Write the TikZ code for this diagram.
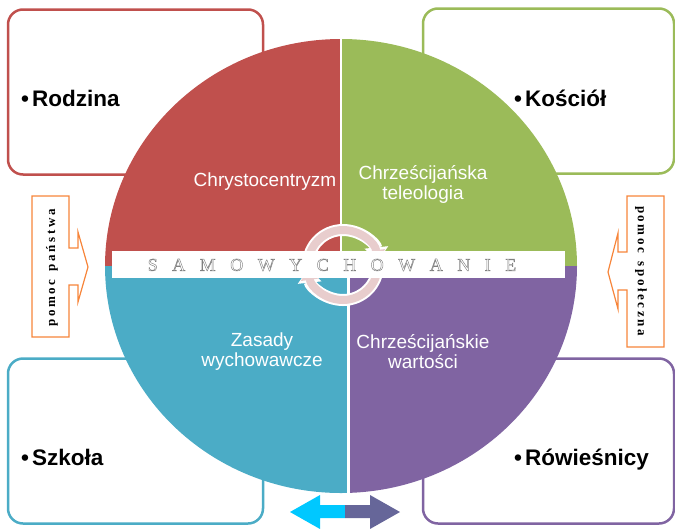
\documentclass[tikz,border=0pt]{standalone}
\usepackage{fontspec}
\setmainfont{Liberation Serif}
\setsansfont{Liberation Sans}
\usepackage{xcolor}
\usetikzlibrary{arrows.meta,positioning}

\definecolor{czerwony}{HTML}{C0504D}
\definecolor{zielony}{HTML}{9BBB59}
\definecolor{niebieski}{HTML}{4BACC6}
\definecolor{fioletowy}{HTML}{8064A2}
\definecolor{pomarancz}{HTML}{F7853A}
\definecolor{rozowy}{RGB}{232,205,205}
\definecolor{cyjan}{HTML}{00C8FF}
\definecolor{lupek}{HTML}{666699}

% letter spacing
\newlength\lsep
\def\spaced#1{\hskip-\lsep\spacedaux#1\relax}
\def\spacedaux#1{\ifx#1\relax\else\hskip\lsep#1\expandafter\spacedaux\fi}
% outlined letters
\newcommand{\obrys}[1]{\special{pdf:literal direct 1 Tr 0.45 w}#1\special{pdf:literal direct 0 Tr}}
\newcommand{\kropka}{\textbullet\hspace{3pt}}

\begin{document}
\begin{tikzpicture}[x=1pt, y=-1pt, every node/.style={inner sep=0pt},
  box/.style={draw, line width=2.5pt, rounded corners=15pt, fill=white, minimum height=165pt},
  lbl/.style={font=\sffamily\bfseries\fontsize{22.5}{22.5}\selectfont, anchor=base west},
  quart/.style={font=\sffamily\fontsize{19}{20}\selectfont, text=white, align=center},
  pomoc/.style={font=\bfseries\fontsize{13}{13}\selectfont},
  callout/.style={draw=pomarancz, line width=1.2pt, fill=white, line join=miter},
  cyklTlo/.style={draw=white, line width=12pt, -{Triangle[width=23pt,length=14pt]}},
  cykl/.style={draw=rozowy, line width=8pt, -{Triangle[width=18pt,length=10pt]}}]
\useasboundingbox (0,0) rectangle (675,528);

% ramki
\node[box, draw=czerwony, minimum width=255pt] (rodzina) at (135.5,92) {};
\node[box, draw=zielony, minimum width=251pt] (kosciol) at (548.5,91) {};
\node[box, draw=niebieski, minimum width=255pt] (szkola) at (135.5,441) {};
\node[box, draw=fioletowy, minimum width=251pt] (rowiesnicy) at (548.5,441) {};

% kolo
\begin{scope}
  \clip (341,266) ellipse [x radius=236, y radius=227];
  \fill[czerwony] (100,30) rectangle (340,266);
  \fill[zielony] (342,30) rectangle (590,266);
  \fill[niebieski] (100,266) rectangle (347,500);
  \fill[fioletowy] (350,266) rectangle (590,500);
\end{scope}

\node[quart] (chrystus) at (265,182) {Chrystocentryzm};
\node[quart] (teleologia) at (423,184) {Chrześcijańska\\teleologia};
\node[quart] (zasady) at (262,352) {Zasady\\wychowawcze};
\node[quart] (wartosci) at (423,352) {Chrześcijańskie\\wartości};

% cykl
\coordinate (srodek) at (343,265);
\draw[cyklTlo] (srodek) ++(180:35) arc[start angle=180, end angle=354, radius=35];
\draw[cyklTlo] (srodek) ++(0:35) arc[start angle=0, end angle=174, radius=35];
\draw[cykl] (srodek) ++(180:35) arc[start angle=180, end angle=352, radius=35];
\draw[cykl] (srodek) ++(0:35) arc[start angle=0, end angle=172, radius=35];

% pas
\node[fill=white, minimum width=453pt, minimum height=27pt] (pas) at (338.5,264.5) {};
\node[font=\fontsize{18}{18}\selectfont, text=gray] (samo) at (332,265)
  {\setlength\lsep{14.5pt}\obrys{\spaced{SAMOWYCHOWANIE}}};

% pomoc
\draw[callout] (32,196) -- (69,196) -- (69,248) -- (78,248) -- (78,232) -- (88,267)
  -- (78,302) -- (78,285) -- (69,285) -- (69,337) -- (32,337) -- cycle;
\node[pomoc, rotate=90] (panstwo) at (52,268) {\setlength\lsep{2.6pt}\spaced{pomoc~państwa}};
\draw[callout] (664,196) -- (627,196) -- (627,252) -- (618,252) -- (618,233) -- (608,272)
  -- (618,309) -- (618,290) -- (627,290) -- (627,347) -- (664,347) -- cycle;
\node[pomoc, rotate=-90] (spolecznosc) at (641,271) {\setlength\lsep{2.6pt}\spaced{pomoc~społeczna}};

% strzalka dolna
\fill[cyjan] (345,505) -- (320,505) -- (320,495) -- (290,512) -- (320,529) -- (320,518) -- (345,518) -- cycle;
\fill[lupek] (345,505) -- (370,505) -- (370,495) -- (400,512) -- (370,529) -- (370,518) -- (345,518) -- cycle;

% podpisy
\node[lbl] (rodzinaT) at (21,106) {\kropka Rodzina};
\node[lbl] (kosciolT) at (514,106) {\kropka Kościół};
\node[lbl] (szkolaT) at (21,465) {\kropka Szkoła};
\node[lbl] (rowiesnicyT) at (514,465) {\kropka Rówieśnicy};
\end{tikzpicture}
\end{document}
